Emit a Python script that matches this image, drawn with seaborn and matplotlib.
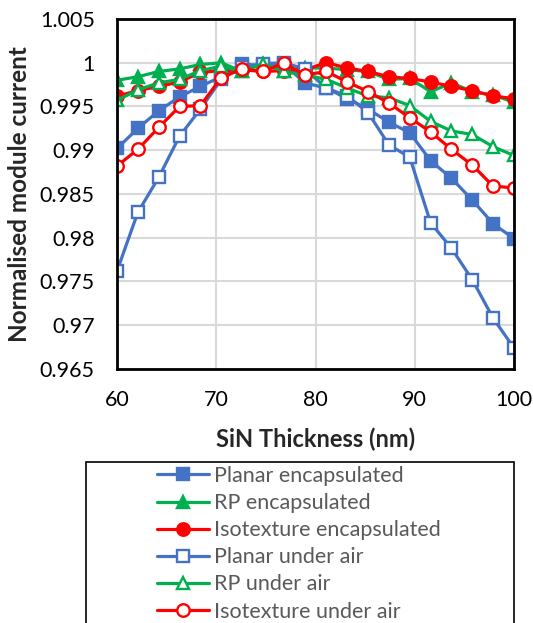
import numpy as np
import pandas as pd
import matplotlib
matplotlib.use('Agg')
import matplotlib.pyplot as plt
import seaborn as sns
from matplotlib.patches import Rectangle

# Data
thickness = [60, 62.1, 64.2, 66.3, 68.4, 70.5, 72.6, 74.7, 76.8, 78.9,
             81.1, 83.2, 85.3, 87.4, 89.5, 91.6, 93.7, 95.8, 97.9, 100]

planar_enc = [0.9902, 0.9925, 0.9945, 0.9961, 0.9973, 0.9984, 0.9999, 0.9996, 0.9999, 0.9977,
              0.9971, 0.9959, 0.9947, 0.9932, 0.9920, 0.9888, 0.9868, 0.9843, 0.9816, 0.9799]
rp_enc = [0.9980, 0.9984, 0.9990, 0.9993, 0.9998, 1.0000, 0.9990, 0.9999, 0.9990, 0.9994,
          0.9994, 0.9992, 0.9990, 0.9981, 0.9982, 0.9967, 0.9977, 0.9967, 0.9963, 0.9955]
iso_enc = [0.9962, 0.9968, 0.9973, 0.9978, 0.9989, 0.9991, 0.9992, 0.9990, 0.9991, 0.9992,
           1.0000, 0.9994, 0.9990, 0.9984, 0.9982, 0.9978, 0.9973, 0.9968, 0.9962, 0.9959]
planar_air = [0.9762, 0.9829, 0.9869, 0.9916, 0.9947, 0.9981, 0.9995, 0.9999, 1.0000, 0.9993,
              0.9971, 0.9962, 0.9943, 0.9906, 0.9892, 0.9817, 0.9788, 0.9752, 0.9708, 0.9674]
rp_air = [0.9957, 0.9969, 0.9977, 0.9981, 0.9991, 0.9996, 0.9990, 0.9999, 0.9990, 0.9986,
          0.9981, 0.9971, 0.9962, 0.9960, 0.9951, 0.9933, 0.9922, 0.9918, 0.9904, 0.9894]
iso_air = [0.9882, 0.9901, 0.9926, 0.9950, 0.9951, 0.9983, 0.9993, 0.9990, 0.99995, 0.9986,
           0.9990, 0.9978, 0.9967, 0.9954, 0.9937, 0.9921, 0.9901, 0.9883, 0.9859, 0.9857]

series_names = ['Planar encapsulated', 'RP encapsulated', 'Isotexture encapsulated',
                'Planar under air', 'RP under air', 'Isotexture under air']
series_values = [planar_enc, rp_enc, iso_enc, planar_air, rp_air, iso_air]

BLUE, GREEN, RED = '#4472C4', '#00B050', '#FF0000'
styles = [
    dict(color=BLUE, marker='s', markersize=8, mfc=BLUE),
    dict(color=GREEN, marker='^', markersize=8.5, mfc=GREEN),
    dict(color=RED, marker='o', markersize=9, mfc=RED),
    dict(color=BLUE, marker='s', markersize=8, mfc='white'),
    dict(color=GREEN, marker='^', markersize=8.5, mfc='white'),
    dict(color=RED, marker='o', markersize=9, mfc='white'),
]

sns.set_theme(style='white')
plt.rcParams['font.family'] = ['Lato', 'DejaVu Sans']

fig = plt.figure(figsize=(5.33, 6.23), dpi=100)
ax = fig.add_axes([117 / 533, 1 - 369 / 623, 397 / 533, 350 / 623])

for name, vals, st in zip(series_names, series_values, styles):
    df = pd.DataFrame({'x': thickness, 'y': vals})
    sns.lineplot(data=df, x='x', y='y', ax=ax, color=st['color'], lw=2.3,
                 marker=st['marker'], markersize=st['markersize'],
                 markerfacecolor=st['mfc'], markeredgecolor=st['color'],
                 markeredgewidth=1.7, label=name, sort=False)

if ax.get_legend() is not None:
    ax.get_legend().remove()

yticks = np.round(np.arange(0.965, 1.0051, 0.005), 3)
ax.set_xlim(60, 100)
ax.set_ylim(0.965, 1.005)
ax.set_xticks(np.arange(60, 101, 10))
ax.set_yticks(yticks)
ax.set_yticklabels([f'{v:g}' for v in yticks])

ax.grid(True, color='#D9D9D9', lw=1.5)
ax.set_axisbelow(True)
for sp in ax.spines.values():
    sp.set_color('black')
    sp.set_linewidth(2)

ax.tick_params(axis='both', direction='in', length=6, width=1.5, colors='black',
               labelsize=15.5, labelcolor='black')
ax.tick_params(axis='y', pad=16)
ax.tick_params(axis='x', pad=15)

ax.set_xlabel('SiN Thickness (nm)', fontsize=17, fontweight='bold', labelpad=13)
ax.set_ylabel('Normalised module current', fontsize=17.5, fontweight='bold', labelpad=6)

handles, labels = ax.get_legend_handles_labels()
leg = fig.legend(handles, labels, loc='upper left',
                 bbox_to_anchor=(157 / 533, 1 - 466 / 623),
                 frameon=False, fontsize=15.5, handlelength=2.42, handletextpad=0.23,
                 labelspacing=0.33, borderaxespad=0, borderpad=0, numpoints=1)
for t in leg.get_texts():
    t.set_color('#595959')

fig.add_artist(Rectangle((86 / 533, -0.05), (514 - 86) / 533, (623 - 462) / 623 + 0.05,
                         transform=fig.transFigure, fill=False, edgecolor='black', lw=1.2))

fig.savefig('out.png', dpi=100)
